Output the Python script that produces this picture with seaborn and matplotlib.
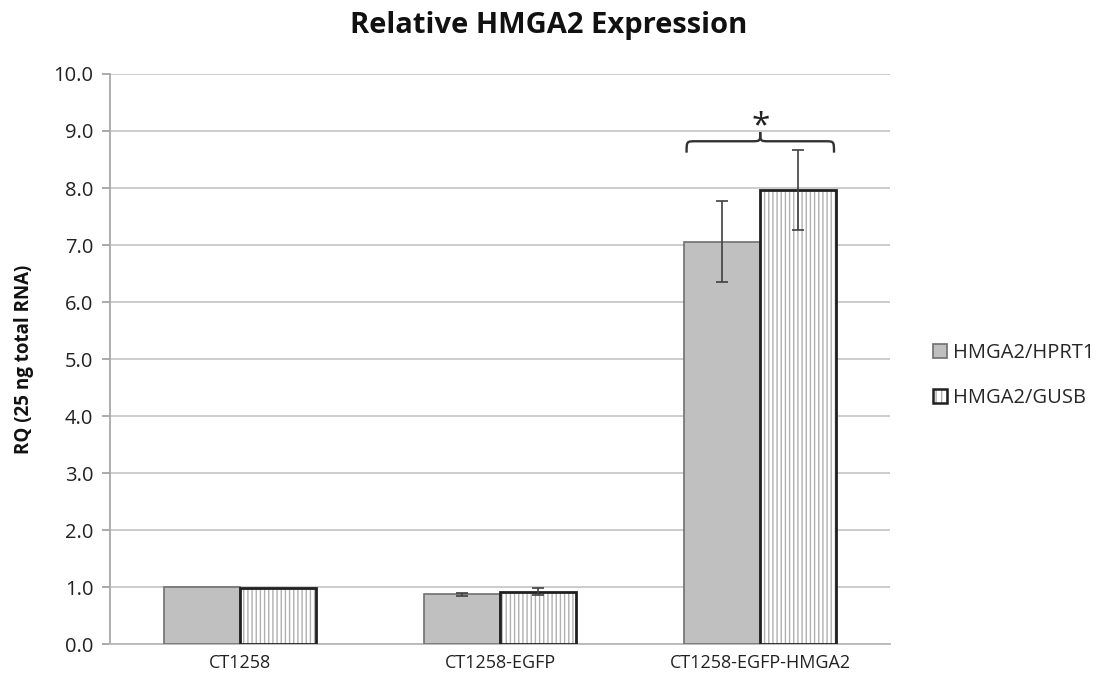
import matplotlib
matplotlib.use("Agg")
import matplotlib.pyplot as plt
import seaborn as sns
import pandas as pd
import numpy as np
from matplotlib.path import Path
from matplotlib.patches import PathPatch, Patch, Rectangle

categories = ["CT1258", "CT1258-EGFP", "CT1258-EGFP-HMGA2"]
series_names = ["HMGA2/HPRT1", "HMGA2/GUSB"]
hprt1_values = [1.0, 0.87, 7.06]
gusb_values = [0.99, 0.92, 7.97]
hprt1_err = [0.0, 0.03, 0.71]
gusb_err = [0.0, 0.06, 0.70]
y_ticks = [0, 1, 2, 3, 4, 5, 6, 7, 8, 9, 10]

sns.set_theme(style="white")
plt.rcParams['font.family'] = ['Open Sans', 'DejaVu Sans']
plt.rcParams['hatch.linewidth'] = 1.0

HATCH = "||||"
HATCH_COL = "#b0b0b0"

df = pd.DataFrame({
    "cat": categories * 2,
    "series": [series_names[0]] * 3 + [series_names[1]] * 3,
    "val": hprt1_values + gusb_values,
})

fig = plt.figure(figsize=(11.07, 6.89), dpi=100)
ax = fig.add_axes([0.0994, 0.0653, 0.7046, 0.8273])

sns.barplot(data=df, x="cat", y="val", hue="series", order=categories,
            hue_order=series_names, palette=["#c0c0c0", "#ffffff"],
            width=0.585, errorbar=None, ax=ax, legend=False, zorder=3)

bars = list(ax.patches)[:6]
errs = hprt1_err + gusb_err
vals = hprt1_values + gusb_values
for i, p in enumerate(bars):
    if i < 3:
        p.set_edgecolor("#707070")
        p.set_linewidth(1.2)
    else:
        p.set_hatch(HATCH)
        p.set_edgecolor(HATCH_COL)
        p.set_linewidth(0)
        ax.add_patch(Rectangle(p.get_xy(), p.get_width(), p.get_height(),
                               fill=False, ec="#202020", lw=2.0, zorder=3.5))
    cx = p.get_x() + p.get_width() / 2
    if errs[i] > 0:
        ax.errorbar(cx, vals[i], yerr=errs[i], color="#404040", lw=1.2,
                    capsize=4.5, capthick=1.2, zorder=4)

ax.set_xlim(-0.5, 2.5)
ax.set_ylim(0, 10)
ax.set_yticks(y_ticks)
ax.set_yticklabels([f"{t:.1f}" for t in y_ticks], fontsize=14.5)
ax.tick_params(axis="y", length=6, color="#a0a0a0", direction="out", left=True, pad=6)
ax.tick_params(axis="x", length=0, labelsize=13, pad=7)
for lbl in ax.get_xticklabels() + ax.get_yticklabels():
    lbl.set_color("#222222")
ax.grid(axis="y", color="#c8c8c8", lw=1.3, zorder=0)
ax.set_axisbelow(True)
for s in ["top", "right"]:
    ax.spines[s].set_visible(False)
ax.spines["left"].set_color("#a8a8a8")
ax.spines["bottom"].set_color("#b8b8b8")
ax.spines["left"].set_linewidth(1.3)
ax.spines["bottom"].set_linewidth(1.3)
ax.set_xlabel("")
ax.set_ylabel("RQ (25 ng total RNA)", fontsize=13.5, fontweight="bold", labelpad=14,
              color="#111111")
fig.text(0.496, 1 - 25 / 689, "Relative HMGA2 Expression", fontsize=21,
         fontweight="bold", ha="center", va="center", color="#111111")

# significance brace over third group
x0 = bars[2].get_x() + 0.01
x1 = bars[5].get_x() + bars[5].get_width() - 0.008
xm = (x0 + x1) / 2
yb, yt, ytip = 8.62, 8.82, 8.98
r = 0.035
for sgn, xe in ((1, x0), (-1, x1)):
    verts = [(xe, yb), (xe, yt), (xe, yt), (xe + sgn * r, yt),
             (xm - sgn * r, yt),
             (xm, yt), (xm, yt), (xm, ytip)]
    codes = [Path.MOVETO, Path.CURVE4, Path.CURVE4, Path.CURVE4,
             Path.LINETO,
             Path.CURVE4, Path.CURVE4, Path.CURVE4]
    ax.add_patch(PathPatch(Path(verts, codes), fill=False, ec="#333333", lw=1.7,
                           zorder=5, clip_on=False))
ax.text(xm, 9.08, "*", ha="center", va="center", fontsize=24, color="#222222")

h1 = Patch(facecolor="#c0c0c0", edgecolor="#707070", lw=1.2)
h2 = (Patch(facecolor="white", edgecolor=HATCH_COL, hatch="|||", lw=0),
      Patch(facecolor="none", edgecolor="#202020", lw=1.8))
fig.legend([h1, h2], series_names, loc="center left", bbox_to_anchor=(0.826, 0.455),
           frameon=False, fontsize=14.5, handlelength=0.7, handleheight=0.7,
           handletextpad=0.3, labelspacing=1.25)

fig.savefig("out.png", dpi=100)
